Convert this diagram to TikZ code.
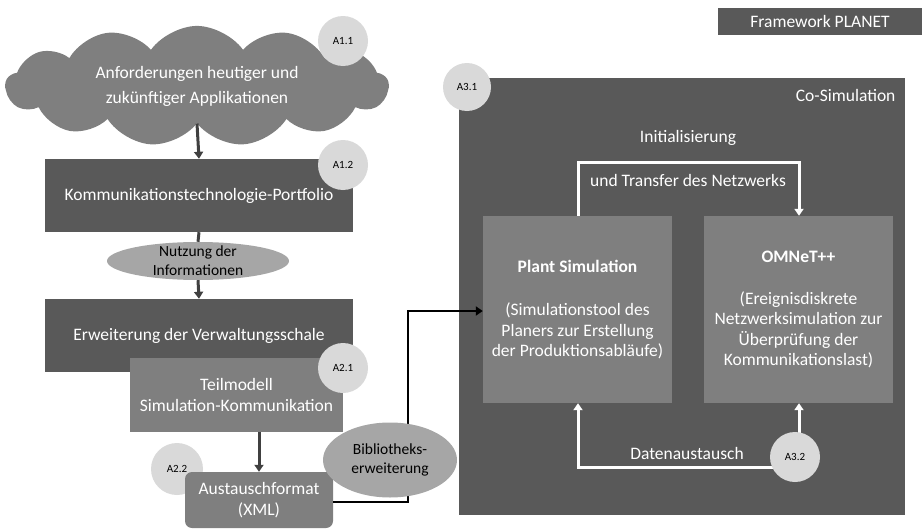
\documentclass[tikz,border=0pt]{standalone}
\usepackage{fontspec}
\setmainfont{Carlito}
\usetikzlibrary{shapes.geometric,shapes.symbols,arrows.meta}
\definecolor{dgray}{HTML}{595959}
\definecolor{mgray}{HTML}{7F7F7F}
\definecolor{lgray}{HTML}{A6A6A6}
\definecolor{cgray}{HTML}{D9D9D9}
\definecolor{agray}{HTML}{404040}
\tikzset{
  txt/.style={font=\fontsize{17.5}{20.5}\selectfont},
  darkbox/.style={fill=dgray, draw=none, text=white, txt, align=center, inner sep=0pt},
  midbox/.style={fill=mgray, draw=none, text=white, txt, align=center, inner sep=0pt},
  tag/.style={circle, fill=cgray, draw=none, minimum size=50pt, inner sep=0pt, font=\fontsize{11}{13}\selectfont},
  lab/.style={ellipse, fill=lgray, draw=none, inner sep=0pt},
  labtxt/.style={align=center, inner sep=0pt, font=\fontsize{15.5}{19}\selectfont},
  darr/.style={draw=agray, line width=3pt, -{Triangle[width=9pt,length=7pt]}},
  dline/.style={draw=agray, line width=3pt},
  barr/.style={draw=black, line width=2.8pt, -{Triangle[width=9pt,length=7pt]}},
  warr/.style={draw=white, line width=3pt, -{Triangle[width=9pt,length=7pt]}},
  wtext/.style={text=white, txt},
}
\begin{document}
\begin{tikzpicture}[x=1pt,y=-1pt]
\useasboundingbox (0,0) rectangle (922,530);
% Framework label
\node[darkbox, minimum width=204pt, minimum height=27pt] (fw) at (820,21.5) {Framework PLANET};
% cloud
\node[cloud, cloud puffs=13, cloud puff arc=110, aspect=3.3, fill=mgray, draw=none, text=white, align=center,
      minimum width=383pt, minimum height=114pt, inner sep=0pt, font=\fontsize{17.5}{25}\selectfont] (cl) at (197,86)
      {Anforderungen heutiger und\\zukünftiger Applikationen};
\node[tag] (a11) at (343,41) {A1.1};
% left column
\node[darkbox, minimum width=308pt, minimum height=73pt] (kt) at (199,195.5) {Kommunikationstechnologie-Portfolio};
\node[tag] (a12) at (343,165) {A1.2};
\node[lab, minimum width=182pt, minimum height=38pt] (nu) at (198,261) {};
\node[labtxt] (nut) at (nu.center) {Nutzung der\\Informationen};
\node[darkbox, minimum width=308pt, minimum height=73pt] (erw) at (199,335.5) {};
\node[wtext] (erwt) at (199,336) {Erweiterung der Verwaltungsschale};
\node[midbox, minimum width=213pt, minimum height=74pt] (teil) at (236.5,395) {Teilmodell\\Simulation-Kommunikation};
\node[tag] (a21) at (343,368) {A2.1};
\node[tag, minimum size=52pt] (a22) at (177,469) {A2.2};
\node[midbox, rounded corners=7pt, minimum width=148pt, minimum height=56pt] (aus) at (259,500) {Austauschformat\\(XML)};
\draw[darr] (cl.south) -- (kt.north);
\draw[dline] (kt.south) -- (nu.north);
\draw[darr] (nu.south) -- (erw.north);
\draw[darr] (teil.south -| aus.north) -- (aus.north);
% co-simulation
\node[fill=dgray, draw=none, minimum width=446pt, minimum height=437pt, inner sep=0pt] (co) at (682,296.5) {};
\node[wtext, anchor=east] (cot) at (899,95) {Co-Simulation};
\node[tag, minimum size=48pt] (a31) at (467,87) {A3.1};
\node[midbox, minimum width=189pt, minimum height=187pt] (pl) at (577.5,309.5)
  {\textbf{Plant Simulation}\\[23pt](Simulationstool des\\Planers zur Erstellung\\der Produktionsabläufe)};
\node[midbox, minimum width=189pt, minimum height=187pt] (om) at (798.5,309.5)
  {\textbf{OMNeT++}\\[21pt](Ereignisdiskrete\\Netzwerksimulation zur\\Überprüfung der\\Kommunikationslast)};
\node[wtext] (ini) at (688,138) {Initialisierung};
\node[wtext] (tra) at (688,180) {und Transfer des Netzwerks};
\coordinate (ia) at (578,162);
\coordinate (ib) at (799,162);
\draw[warr] (pl.north -| ia) -- (ia) -- (ib) -- (om.north -| ib);
\coordinate (d0) at (795,467);
\coordinate (d1) at (578,467);
\draw[warr] (d0) -- (d1) -- (pl.south -| d1);
\draw[warr] (ib |- 0,440) -- (om.south -| ib);
\node[tag] (a32) at (795,457) {A3.2};
\node[wtext] (da) at (687,453) {Datenaustausch};
% black connector
\coordinate (bk) at (408,311);
\draw[barr] (aus.east |- 0,502) -| (bk) -- (pl.west |- bk);
\node[lab, minimum width=134pt, minimum height=75pt] (bib) at (390,460) {};
\node[labtxt] (bibt) at (bib.center) {Bibliotheks-\\erweiterung};
\end{tikzpicture}
\end{document}
